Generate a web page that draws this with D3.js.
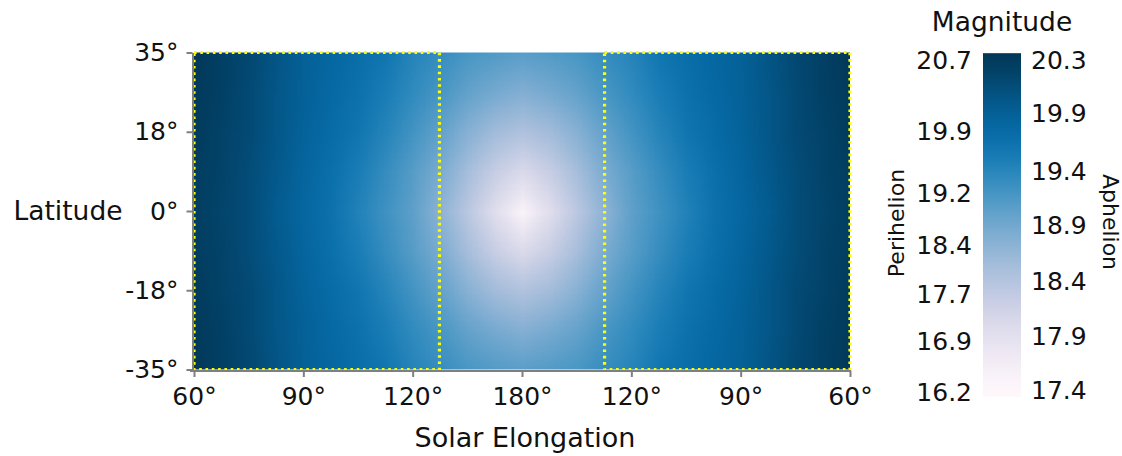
<!DOCTYPE html>
<html><head><meta charset="utf-8">
<script src="https://cdn.jsdelivr.net/npm/d3@7"></script>
<style>
body{margin:0;background:#fff;}
text{font-family:"DejaVu Sans",Verdana,sans-serif;fill:#111;}
</style>
</head><body>
<svg id="chart" width="1122" height="456"></svg>
<script>
// ---- data ----
const xTickPos = [0, 1, 2, 3, 4, 5, 6];
const xTickLabels = ["60°", "90°", "120°", "180°", "120°", "90°", "60°"];
const yTickValues = [35, 17.5, 0, -17.5, -35];
const yTickLabels = ["35°", "18°", "0°", "-18°", "-35°"];
const gridX = [0,0.25,0.5,0.75,1,1.25,1.5,1.75,2,2.25,2.5,2.75,3,3.25,3.5,3.75,4,4.25,4.5,4.75,5,5.25,5.5,5.75,6];
const gridLat = [35, 26.25, 17.5, 8.75, 0, -8.75, -17.5, -26.25, -35];
const magnitude = [
 [20.30,20.21,20.13,19.98,19.81,19.72,19.63,19.52,19.34,19.23,19.11,19.05,19.00,19.05,19.11,19.23,19.34,19.52,19.63,19.72,19.81,19.98,20.13,20.21,20.30],
 [20.27,20.21,20.10,19.95,19.81,19.69,19.58,19.43,19.26,19.11,18.94,18.82,18.73,18.82,18.94,19.11,19.26,19.43,19.58,19.69,19.81,19.95,20.10,20.21,20.27],
 [20.27,20.18,20.10,19.95,19.78,19.66,19.52,19.34,19.14,18.94,18.71,18.50,18.39,18.50,18.71,18.94,19.14,19.34,19.52,19.66,19.78,19.95,20.10,20.18,20.27],
 [20.24,20.18,20.07,19.92,19.75,19.60,19.43,19.23,19.02,18.79,18.47,18.18,17.98,18.18,18.47,18.79,19.02,19.23,19.43,19.60,19.75,19.92,20.07,20.18,20.24],
 [20.24,20.16,20.07,19.89,19.72,19.58,19.37,19.17,18.97,18.66,18.30,17.90,17.49,17.90,18.30,18.66,18.97,19.17,19.37,19.58,19.72,19.89,20.07,20.16,20.24],
 [20.24,20.18,20.07,19.92,19.75,19.60,19.43,19.23,19.02,18.79,18.47,18.18,17.98,18.18,18.47,18.79,19.02,19.23,19.43,19.60,19.75,19.92,20.07,20.18,20.24],
 [20.27,20.18,20.10,19.95,19.78,19.66,19.52,19.34,19.14,18.94,18.71,18.50,18.39,18.50,18.71,18.94,19.14,19.34,19.52,19.66,19.78,19.95,20.10,20.18,20.27],
 [20.27,20.21,20.10,19.95,19.81,19.69,19.58,19.43,19.26,19.11,18.94,18.82,18.73,18.82,18.94,19.11,19.26,19.43,19.58,19.69,19.81,19.95,20.10,20.21,20.27],
 [20.30,20.21,20.13,19.98,19.81,19.72,19.63,19.52,19.34,19.23,19.11,19.05,19.00,19.05,19.11,19.23,19.34,19.52,19.63,19.72,19.81,19.98,20.13,20.21,20.30]
];
const boxes = [[0, 2.245], [3.755, 6]];
const aphelionTicks = ["20.3", "19.9", "19.4", "18.9", "18.4", "17.9", "17.4"];
const aphelionTickAt = [20.30, 19.83, 19.32, 18.85, 18.36, 17.87, 17.40];
const perihelionTicks = ["20.7", "19.9", "19.2", "18.4", "17.7", "16.9", "16.2"];
const perihelionTickAt = [20.30, 19.67, 19.13, 18.67, 18.24, 17.83, 17.38];
const colorDomain = [17.4, 20.3];
const barDomain = [17.34, 20.36];

// ---- layout ----
const svg = d3.select("#chart");
const x = d3.scaleLinear().domain([0, 6]).range([194, 850]);
const y = d3.scaleLinear().domain([-35, 35]).range([369.5, 52.5]);
const color = d3.scaleSequential(d3.interpolatePuBu).domain(colorDomain).clamp(true);

// heatmap: build small raster from grid, let the browser smooth it
const nx = gridX.length, ny = gridLat.length;
const cv = document.createElement("canvas");
cv.width = nx; cv.height = ny;
const ctx = cv.getContext("2d");
const img = ctx.createImageData(nx, ny);
magnitude.forEach((row, j) => row.forEach((v, i) => {
  const c = d3.rgb(color(v));
  const k = (j * nx + i) * 4;
  img.data[k] = c.r; img.data[k+1] = c.g; img.data[k+2] = c.b; img.data[k+3] = 255;
}));
ctx.putImageData(img, 0, 0);
const dx = gridX[1] - gridX[0], dl = gridLat[0] - gridLat[1];

svg.append("defs").append("clipPath").attr("id", "plotclip")
  .append("rect").attr("x", x(0)).attr("y", y(35)).attr("width", x(6) - x(0)).attr("height", y(-35) - y(35));

svg.append("g").attr("clip-path", "url(#plotclip)")
  .append("image")
  .attr("href", cv.toDataURL())
  .attr("x", x(gridX[0] - dx / 2)).attr("y", y(gridLat[0] + dl / 2))
  .attr("width", x(gridX[nx - 1] + dx / 2) - x(gridX[0] - dx / 2))
  .attr("height", y(gridLat[ny - 1] - dl / 2) - y(gridLat[0] + dl / 2))
  .attr("preserveAspectRatio", "none")
  .style("image-rendering", "auto");

// dotted boxes
svg.append("g").selectAll("rect").data(boxes).join("rect")
  .attr("x", d => x(d[0])).attr("y", y(35))
  .attr("width", d => x(d[1]) - x(d[0])).attr("height", y(-35) - y(35))
  .attr("fill", "none").attr("stroke", "#ffff00").attr("stroke-width", 3.2)
  .attr("stroke-dasharray", "2.6,3.7");

// axes
const axisColor = "#7f7f7f";
const yAxis = svg.append("g").attr("transform", "translate(192.5,0)")
  .call(d3.axisLeft(y).tickValues(yTickValues).tickFormat((d, i) => yTickLabels[i]).tickSize(6).tickSizeOuter(0).tickPadding(8));
const xAxis = svg.append("g").attr("transform", "translate(0,371)")
  .call(d3.axisBottom(x).tickValues(xTickPos).tickFormat((d, i) => xTickLabels[i]).tickSize(6).tickSizeOuter(0).tickPadding(10));
[yAxis, xAxis].forEach(a => {
  a.select(".domain").attr("stroke", axisColor).attr("stroke-width", 2);
  a.selectAll(".tick line").attr("stroke", axisColor).attr("stroke-width", 2);
  a.selectAll(".tick text").attr("font-size", 25).attr("fill", "#111").style("font-family", "'DejaVu Sans', Verdana, sans-serif");
});
xAxis.select(".domain").attr("d", `M${x(0) - 4},0H${x(6) + 1}`);

svg.append("text").attr("x", 68).attr("y", 211).attr("dy", "0.35em")
  .attr("text-anchor", "middle").attr("font-size", 26.5).text("Latitude");
svg.append("text").attr("x", 525).attr("y", 447)
  .attr("text-anchor", "middle").attr("font-size", 27).text("Solar Elongation");

// colorbar
const cb = d3.scaleLinear().domain(colorDomain).range([390, 60]);
const grad = svg.select("defs").append("linearGradient").attr("id", "cbgrad")
  .attr("x1", 0).attr("y1", 1).attr("x2", 0).attr("y2", 0);
d3.range(0, 21).forEach(k => {
  const v = barDomain[0] + (barDomain[1] - barDomain[0]) * k / 20;
  grad.append("stop").attr("offset", k / 20).attr("stop-color", color(v));
});
svg.append("rect").attr("x", 983).attr("y", cb(barDomain[1]))
  .attr("width", 38).attr("height", cb(barDomain[0]) - cb(barDomain[1]))
  .attr("fill", "url(#cbgrad)");

svg.append("g").selectAll("text").data(perihelionTicks).join("text")
  .attr("x", 972).attr("y", (d, i) => cb(perihelionTickAt[i])).attr("dy", "0.35em")
  .attr("text-anchor", "end").attr("font-size", 25).text(d => d);
svg.append("g").selectAll("text").data(aphelionTicks).join("text")
  .attr("x", 1031).attr("y", (d, i) => cb(aphelionTickAt[i])).attr("dy", "0.35em")
  .attr("text-anchor", "start").attr("font-size", 25).text(d => d);

svg.append("text").attr("x", 1002).attr("y", 31).attr("text-anchor", "middle")
  .attr("font-size", 26.5).text("Magnitude");
svg.append("text").attr("transform", "translate(896,223) rotate(-90)")
  .attr("text-anchor", "middle").attr("dy", "0.35em").attr("font-size", 22).text("Perihelion");
svg.append("text").attr("transform", "translate(1111,222) rotate(90)")
  .attr("text-anchor", "middle").attr("dy", "0.35em").attr("font-size", 22).text("Aphelion");
</script>
</body></html>
